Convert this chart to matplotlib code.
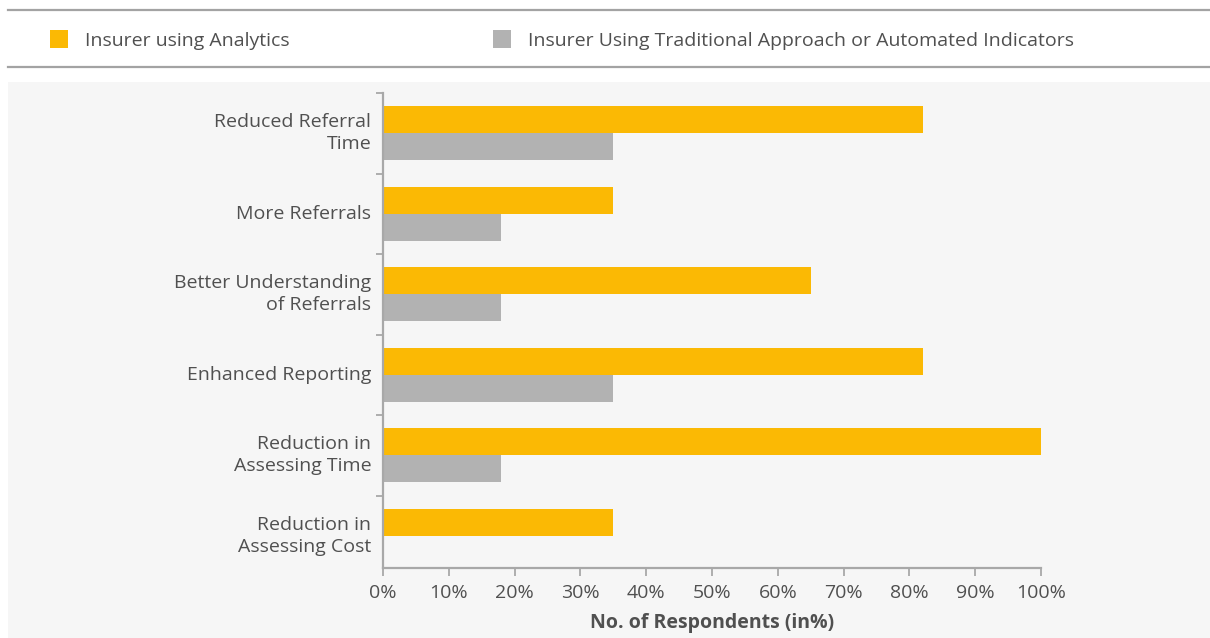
import numpy as np
import matplotlib.pyplot as plt
from matplotlib.patches import Rectangle
from matplotlib.lines import Line2D

# benefits observed, top to bottom
categories = ['Reduced Referral\nTime', 'More Referrals', 'Better Understanding\nof Referrals',
              'Enhanced Reporting', 'Reduction in\nAssessing Time', 'Reduction in\nAssessing Cost']
series_names = ['Insurer using Analytics',
                'Insurer Using Traditional Approach or Automated Indicators']
analytics = [82, 35, 65, 82, 100, 35]
traditional = [35, 18, 18, 35, 18, 0]
xticks = [0, 10, 20, 30, 40, 50, 60, 70, 80, 90, 100]

orange = '#fbb904'
grey = '#b2b2b2'
text_col = '#505050'
axis_col = '#a8a8a8'
fs = 14

plt.rcParams['font.family'] = ['Open Sans', 'DejaVu Sans']

W, H = 1210, 638
fig = plt.figure(figsize=(W / 100, H / 100), dpi=100)
fig.patch.set_facecolor('white')

# light panel behind the chart
fig.add_artist(Rectangle((8 / W, 0), 1 - 8 / W, 1 - 82 / H, transform=fig.transFigure,
                         facecolor='#f6f6f6', edgecolor='none', zorder=0))
# rules above and below the legend
for yy in (10, 67):
    fig.add_artist(Line2D([8 / W, 1], [1 - yy / H] * 2, transform=fig.transFigure,
                          color='#a3a3a3', lw=1.6))

# legend boxes
for (x0, name, col) in [(50, series_names[0], orange), (493, series_names[1], grey)]:
    fig.add_artist(Rectangle((x0 / W, 1 - 48 / H), 18 / W, 18 / H, transform=fig.transFigure,
                             facecolor=col, edgecolor='none'))
    fig.text((x0 + 35) / W, 1 - 40.5 / H, name, fontsize=fs, color=text_col, va='center')

ax = fig.add_axes([383 / W, 1 - 568 / H, (1041 - 383) / W, (568 - 93) / H])
ax.set_facecolor('none')

y = np.arange(len(categories))
h = 0.335
ax.barh(y - h / 2, analytics, height=h, color=orange, zorder=2)
ax.barh(y + h / 2, traditional, height=h, color=grey, zorder=2)

ax.set_xlim(0, 100)
ax.set_ylim(5.40, -0.45)
ax.set_xticks(xticks)
ax.set_xticklabels([f'{t}%' for t in xticks])
ax.set_yticks(y)
ax.set_yticklabels(categories, linespacing=1.3, va='center')
ax.set_yticks(np.arange(len(categories)) - 0.5, minor=True)
ax.tick_params(axis='y', which='major', length=0, pad=8.5, labelsize=fs, labelcolor=text_col)
ax.tick_params(axis='y', which='minor', length=5, width=1.3, color=axis_col)
ax.tick_params(axis='x', length=6, width=1.3, color=axis_col, labelsize=fs,
               labelcolor=text_col, pad=5.5)

for s in ('top', 'right'):
    ax.spines[s].set_visible(False)
for s in ('left', 'bottom'):
    ax.spines[s].set_color(axis_col)
    ax.spines[s].set_linewidth(1.6)

ax.set_xlabel('No. of Respondents (in%)', fontsize=fs, fontweight='bold', color=text_col,
              labelpad=8)

fig.savefig('out.png', dpi=100)
